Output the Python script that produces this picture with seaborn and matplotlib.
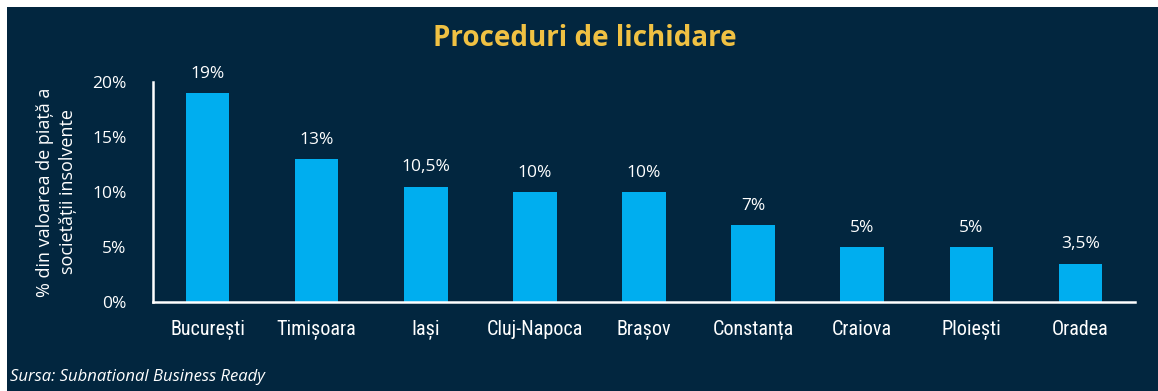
import matplotlib
matplotlib.use("Agg")
import matplotlib.pyplot as plt
import seaborn as sns
import pandas as pd
from matplotlib.patches import Rectangle
from matplotlib import font_manager

# Data
cities = ["București", "Timișoara", "Iași", "Cluj-Napoca", "Brașov",
          "Constanța", "Craiova", "Ploiești", "Oradea"]
values = [19, 13, 10.5, 10, 10, 7, 5, 5, 3.5]
yticks = [0, 5, 10, 15, 20]

NAVY = "#02263f"
BAR = "#00aeef"
GOLD = "#f0c143"
WHITE = "#ffffff"

sns.set_theme(style="white")
plt.rcParams["font.family"] = ["Open Sans", "DejaVu Sans"]

# narrow face for the city names, if one is available
available = {f.name for f in font_manager.fontManager.ttflist}
narrow = next((n for n in ["Liberation Sans Narrow", "Roboto Condensed",
                           "Open Sans Condensed", "Roboto"] if n in available),
              "DejaVu Sans")

df = pd.DataFrame({"oras": cities, "valoare": values})

fig = plt.figure(figsize=(11.58, 3.91), dpi=100)
fig.patch.set_facecolor("white")
fig.add_artist(Rectangle((7 / 1158, 0), 1, 1 - 7 / 391, transform=fig.transFigure,
                         facecolor=NAVY, edgecolor="none", zorder=-10))

ax = fig.add_axes([153 / 1158, 1 - 302 / 391, (1135 - 153) / 1158, (302 - 82) / 391])
ax.set_facecolor("none")

sns.barplot(data=df, x="oras", y="valoare", color=BAR, width=0.4,
            saturation=1, edgecolor="none", linewidth=0, ax=ax)

ax.set_xlim(-0.5, len(cities) - 0.5)
ax.set_ylim(0, 20)
ax.set_yticks(yticks)
ax.set_yticklabels([f"{t}%" for t in yticks], color=WHITE, fontsize=12.5)
ax.set_xticks(range(len(cities)))
ax.set_xticklabels(cities, color=WHITE, fontsize=14.5, family=[narrow, "DejaVu Sans"])
ax.tick_params(axis="y", length=0, pad=19)
ax.tick_params(axis="x", length=0, pad=13)

for s in ["top", "right"]:
    ax.spines[s].set_visible(False)
for s in ["left", "bottom"]:
    ax.spines[s].set_color(WHITE)
    ax.spines[s].set_linewidth(1.8)

for i, v in enumerate(values):
    lbl = (f"{v:g}".replace(".", ",")) + "%"
    ax.annotate(lbl, (i, v), xytext=(0, 8), textcoords="offset points",
                ha="center", va="bottom", color=WHITE, fontsize=12.5)

ax.set_xlabel("")
ax.set_ylabel("% din valoarea de piață a\nsocietății insolvente", color=WHITE,
              fontsize=13, linespacing=1.35, labelpad=11)

fig.text(585 / 1158, 1 - 38 / 391, "Proceduri de lichidare", color=GOLD,
         fontsize=20, fontweight="bold", ha="center", va="center")
fig.text(10 / 1158, 1 - 377 / 391, "Sursa: Subnational Business Ready", color=WHITE,
         fontsize=12, fontstyle="italic", ha="left", va="center")

fig.savefig("out.png", dpi=100, facecolor=fig.get_facecolor())
